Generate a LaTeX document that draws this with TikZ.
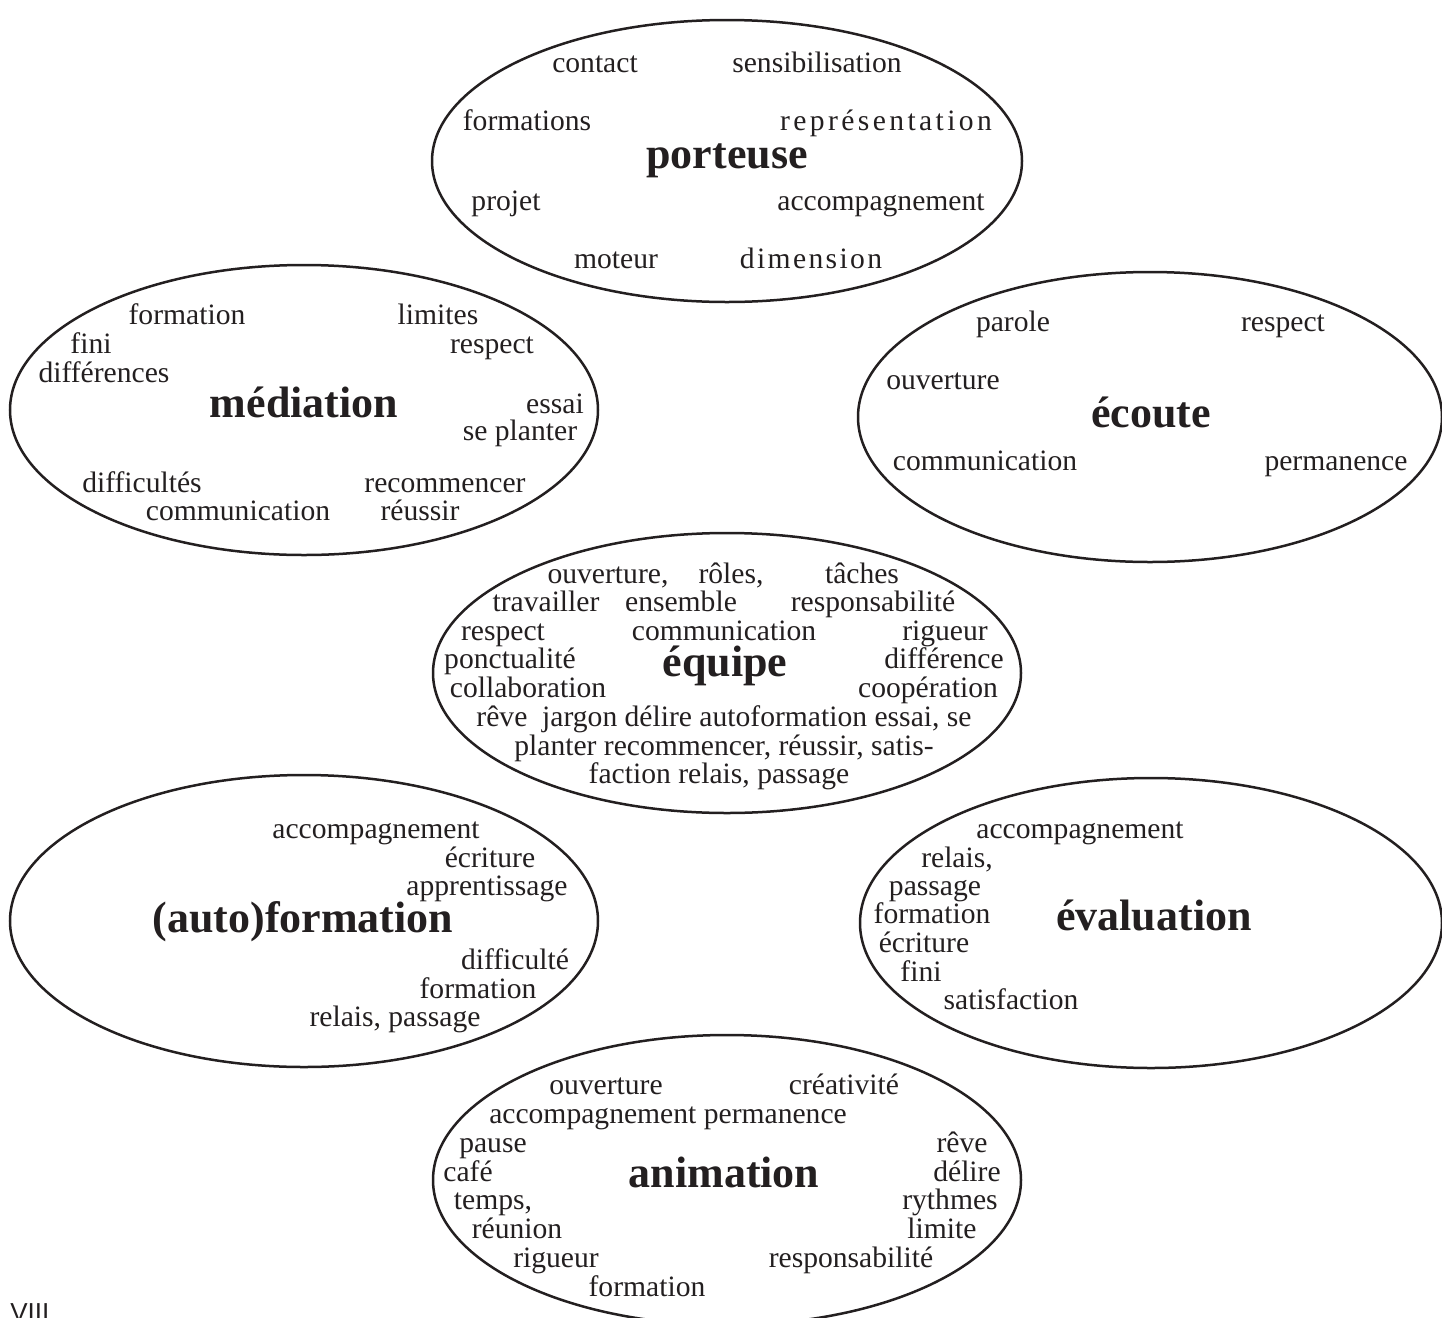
\documentclass[tikz,border=0pt]{standalone}
\usepackage{fontspec}
\setmainfont{Liberation Serif}
\newfontfamily\folio{Liberation Sans}
\usepackage{tikz}
\definecolor{ink}{HTML}{231F20}
\newcommand{\wordfont}{\fontsize{14.8}{17}\selectfont}
\tikzset{
  ring/.style={draw=ink, line width=1.25pt},
  word/.style={text=ink, font=\wordfont, inner sep=0pt, text height=10.2pt, text depth=0pt},
  spaced/.style={word, font=\wordfont\addfontfeature{LetterSpace=#1}},
  hub/.style={text=ink, font=\bfseries\fontsize{22}{26}\selectfont, inner sep=0pt, text height=14pt, text depth=0pt}
}

\begin{document}
\begin{tikzpicture}[x=0.5pt, y=-0.5pt]
  \useasboundingbox (0,0) rectangle (1442,1318);

  \coordinate (P) at (727,161);
  \coordinate (M) at (304,410);
  \coordinate (E) at (1150,417);
  \coordinate (Q) at (727,673);
  \coordinate (A) at (304,921);
  \coordinate (V) at (1151,923);
  \coordinate (N) at (727,1180);

  \draw[ring] (P) ellipse [x radius=295, y radius=141];
  \draw[ring] (M) ellipse [x radius=294, y radius=145];
  \draw[ring] (E) ellipse [x radius=292, y radius=145];
  \draw[ring] (Q) ellipse [x radius=294, y radius=140];
  \draw[ring] (A) ellipse [x radius=294, y radius=146];
  \draw[ring] (V) ellipse [x radius=291, y radius=145];
  \draw[ring] (N) ellipse [x radius=294, y radius=145];

  % porteuse
  \node[hub] (porteuse) at (727,154) {porteuse};
  \node[word] (p1) at (595,62) {contact};
  \node[word] (p2) at (817,62) {sensibilisation};
  \node[word] (p3) at (527,120) {formations};
  \node[spaced=11.5] (p4) at (886,120) {représentation};
  \node[word] (p5) at (506,200) {projet};
  \node[word] (p6) at (881,200) {accompagnement};
  \node[word] (p7) at (616,258) {moteur};
  \node[spaced=8] (p8) at (811,258) {dimension};

  % médiation
  \node[hub] (mediation) at (304,403) {médiation};
  \node[word] (m1) at (187,314) {formation};
  \node[word] (m2) at (438,314) {limites};
  \node[word] (m3) at (91,343) {fini};
  \node[word] (m4) at (492,343) {respect};
  \node[word] (m5) at (104,372) {différences};
  \node[word] (m6) at (555,403) {essai};
  \node[word] (m7) at (520,430) {se planter};
  \node[word] (m8) at (142,482) {difficultés};
  \node[word] (m9) at (445,482) {recommencer};
  \node[word] (m10) at (238,510) {communication};
  \node[word] (m11) at (420,510) {réussir};

  % écoute
  \node[hub] (ecoute) at (1151,413) {écoute};
  \node[word] (e1) at (1013,321) {parole};
  \node[word] (e2) at (1283,321) {respect};
  \node[word] (e3) at (943,379) {ouverture};
  \node[word] (e4) at (985,460) {communication};
  \node[word] (e5) at (1336,460) {permanence};

  % équipe
  \node[hub] (equipe) at (725,662) {équipe};
  \node[word] (q1) at (608,573) {ouverture,};
  \node[word] (q2) at (731,573) {rôles,};
  \node[word] (q3) at (862,573) {tâches};
  \node[word] (q4) at (546,601) {travailler};
  \node[word] (q5) at (681,601) {ensemble};
  \node[word] (q6) at (873,601) {responsabilité};
  \node[word] (q7) at (503,630) {respect};
  \node[word] (q8) at (724,630) {communication};
  \node[word] (q9) at (945,630) {rigueur};
  \node[word] (q10) at (510,658) {ponctualité};
  \node[word] (q11) at (944,658) {différence};
  \node[word] (q12) at (528,687) {collaboration};
  \node[word] (q13) at (928,687) {coopération};
  \node[word] (q14) at (724,716) {rêve\ \ jargon délire autoformation essai, se};
  \node[word] (q15) at (724,745) {planter recommencer, réussir, satis-};
  \node[word] (q16) at (719,773) {faction relais, passage};

  % (auto)formation
  \node[hub] (autoformation) at (303,918) {(auto)formation};
  \node[word] (a1) at (376,828) {accompagnement};
  \node[word] (a2) at (490,857) {écriture};
  \node[word] (a3) at (487,885) {apprentissage};
  \node[word] (a4) at (515,959) {difficulté};
  \node[word] (a5) at (478,988) {formation};
  \node[word] (a6) at (395,1016) {relais, passage};

  % évaluation
  \node[hub] (evaluation) at (1154,916) {évaluation};
  \node[word] (v1) at (1080,828) {accompagnement};
  \node[word] (v2) at (957,857) {relais,};
  \node[word] (v3) at (935,885) {passage};
  \node[word] (v4) at (932,913) {formation};
  \node[word] (v5) at (924,942) {écriture};
  \node[word] (v6) at (921,971) {fini};
  \node[word] (v7) at (1011,999) {satisfaction};

  % animation
  \node[hub] (animation) at (724,1173) {animation};
  \node[word] (n1) at (606,1084) {ouverture};
  \node[word] (n2) at (844,1084) {créativité};
  \node[word] (n3) at (668,1113) {accompagnement permanence};
  \node[word] (n4) at (493,1142) {pause};
  \node[word] (n5) at (962,1142) {rêve};
  \node[word] (n6) at (468,1171) {café};
  \node[word] (n7) at (967,1171) {délire};
  \node[word] (n8) at (493,1199) {temps,};
  \node[word] (n9) at (950,1199) {rythmes};
  \node[word] (n10) at (517,1228) {réunion};
  \node[word] (n11) at (942,1228) {limite};
  \node[word] (n12) at (556,1257) {rigueur};
  \node[word] (n13) at (851,1257) {responsabilité};
  \node[word] (n14) at (647,1286) {formation};

  \node[text=ink, font=\folio\fontsize{13}{15}\selectfont, inner sep=0pt, anchor=north west] (folio) at (10,1303) {VIII};
\end{tikzpicture}
\end{document}
